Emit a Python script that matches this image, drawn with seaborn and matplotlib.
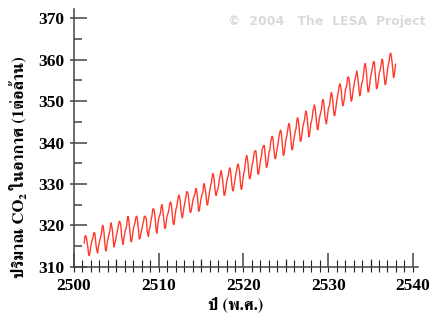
import matplotlib
matplotlib.use("Agg")
import matplotlib.pyplot as plt
from matplotlib.ticker import MultipleLocator, FixedLocator, NullFormatter
import numpy as np
import pandas as pd
import seaborn as sns

# ---- data: monthly CO2 (ppm), Mauna Loa, starting March 2501 B.E. (1958 C.E.)
start_year_be = 2501
start_month = 3
co2_ppm = [
    315.7, 317.4, 317.5, 317.1, 315.9, 314.9, 313.2, 312.7, 313.3, 314.7,               # 2501
    315.6, 316.4, 316.7, 317.7, 318.3, 318.1, 316.5, 314.8, 313.8, 313.3, 314.8, 315.6, # 2502
    316.4, 317.0, 317.6, 319.0, 320.0, 319.6, 318.2, 315.9, 314.2, 313.8, 315.0, 316.2, # 2503
    316.9, 317.7, 318.5, 319.5, 320.6, 319.8, 318.6, 316.8, 314.8, 315.4, 316.1, 317.0, # 2504
    317.9, 318.6, 319.7, 320.6, 321.0, 320.6, 319.6, 317.4, 316.3, 315.4, 316.7, 317.7, # 2505
    318.7, 319.1, 319.9, 321.4, 322.2, 321.5, 319.7, 317.8, 316.2, 316.0, 317.1, 318.3, # 2506
    319.6, 320.1, 320.7, 321.8, 322.2, 321.9, 320.4, 318.7, 316.7, 316.8, 317.8, 318.7, # 2507
    319.4, 320.4, 320.9, 322.1, 322.2, 321.9, 321.4, 318.8, 317.8, 317.3, 318.9, 319.4, # 2508
    320.6, 321.6, 322.4, 323.9, 324.0, 323.7, 322.4, 320.4, 318.6, 318.1, 319.8, 321.1, # 2509
    322.1, 322.5, 323.0, 324.4, 325.0, 324.1, 322.5, 320.9, 319.3, 319.3, 320.7, 322.0, # 2510
    322.6, 323.1, 323.9, 325.0, 325.6, 325.4, 324.1, 322.0, 320.4, 320.2, 321.3, 322.8, # 2511
    324.0, 324.4, 325.6, 326.7, 327.3, 326.8, 325.9, 323.7, 322.4, 321.8, 322.8, 324.1, # 2512
    325.0, 326.0, 326.9, 328.1, 328.1, 327.7, 326.3, 324.7, 323.1, 323.2, 324.0, 325.1, # 2513
    326.2, 326.7, 327.2, 327.8, 328.9, 328.6, 327.3, 325.5, 323.4, 323.6, 324.8, 326.0, # 2514
    326.8, 327.6, 327.8, 329.7, 330.1, 329.1, 328.0, 326.3, 324.9, 325.1, 326.5, 327.5, # 2515
    328.5, 329.6, 330.3, 331.5, 332.5, 332.1, 330.9, 329.3, 327.5, 327.2, 328.2, 328.6, # 2516
    329.3, 330.7, 331.5, 332.6, 333.2, 332.2, 331.1, 329.1, 327.3, 327.3, 328.3, 329.6, # 2517
    330.7, 331.5, 331.9, 333.2, 333.9, 333.4, 332.0, 329.9, 328.5, 328.3, 329.4, 330.6, # 2518
    331.6, 332.7, 333.5, 334.6, 334.8, 334.0, 333.1, 330.7, 328.9, 328.7, 330.1, 331.6, # 2519
    332.7, 333.1, 334.9, 336.1, 336.9, 336.2, 334.9, 332.6, 331.3, 331.3, 332.4, 333.6, # 2520
    334.9, 335.2, 336.7, 337.7, 338.0, 338.0, 336.4, 334.4, 332.4, 332.4, 333.7, 334.9, # 2521
    336.1, 336.7, 338.3, 338.9, 339.2, 339.3, 337.5, 335.7, 334.0, 334.2, 335.3, 336.8, # 2522
    337.9, 338.3, 340.0, 340.9, 341.5, 341.3, 339.4, 337.7, 336.2, 336.1, 337.3, 338.3, # 2523
    339.3, 340.5, 341.6, 342.5, 343.0, 342.5, 340.8, 338.4, 336.9, 337.1, 338.6, 339.9, # 2524
    341.0, 341.7, 342.8, 344.0, 344.6, 343.8, 342.3, 340.1, 338.3, 338.3, 339.6, 340.9, # 2525
    341.7, 342.9, 343.3, 345.2, 346.0, 345.6, 344.2, 342.3, 340.3, 340.4, 341.6, 343.0, # 2526
    344.1, 344.8, 345.5, 346.8, 347.6, 347.0, 345.5, 343.5, 341.4, 341.7, 343.1, 344.7, # 2527
    345.2, 346.2, 347.7, 348.3, 349.1, 348.4, 346.7, 345.0, 343.3, 343.1, 344.5, 345.9, # 2528
    346.6, 347.3, 348.0, 349.8, 350.4, 349.9, 348.2, 346.1, 345.2, 344.5, 345.9, 347.2, # 2529
    348.5, 348.7, 349.7, 351.3, 352.1, 351.5, 350.1, 347.9, 346.5, 346.6, 348.0, 349.2, # 2530
    350.4, 351.6, 352.4, 353.7, 354.2, 353.7, 352.7, 350.4, 348.9, 349.1, 350.2, 351.4, # 2531
    352.9, 353.3, 354.0, 355.6, 355.9, 355.4, 354.0, 351.8, 350.0, 350.2, 351.5, 352.8, # 2532
    353.8, 355.0, 355.7, 356.3, 357.3, 356.3, 354.8, 353.0, 351.3, 351.6, 353.1, 354.3, # 2533
    354.8, 355.7, 357.2, 358.7, 359.1, 358.1, 356.2, 353.8, 352.2, 352.3, 353.8, 355.1, # 2534
    356.2, 357.1, 357.9, 359.1, 359.6, 359.3, 357.0, 354.9, 353.0, 353.3, 354.3, 355.6, # 2535
    357.0, 357.3, 358.5, 359.3, 360.2, 359.5, 357.3, 355.6, 354.0, 354.1, 355.4, 356.9, # 2536
    358.2, 358.9, 360.0, 361.2, 361.6, 360.8, 359.4, 357.5, 355.7, 356.1, 357.5, 359.0, # 2537
]
x_ticks_major = [2500, 2510, 2520, 2530, 2540]
x_ticks_mid = [2505, 2515, 2525, 2535]
y_ticks_major = [310, 320, 330, 340, 350, 360, 370]
x_label = "ปี (พ.ศ.)"
y_label = "ปริมาณ CO₂ ในอากาศ (1ต่อล้าน)"
watermark = "©  2004   The  LESA  Project"

months_index = np.arange(len(co2_ppm)) + (start_month - 1)
df = pd.DataFrame({
    "year": start_year_be + (months_index + 0.5) / 12.0,
    "co2": co2_ppm,
})

sns.set_style("ticks")
W, H = 434, 321
fig = plt.figure(figsize=(W / 100, H / 100), dpi=100)
ax_l, ax_r, ax_b, ax_t = 74, 418, 266.7, 9.3
ax = fig.add_axes([ax_l / W, 1 - ax_b / H, (ax_r - ax_l) / W, (ax_b - ax_t) / H])
ax.set_facecolor("white")

sns.lineplot(data=df, x="year", y="co2", ax=ax, color="#ff3b2b", linewidth=1.0)

ax.set_xlim(2500, 2540.6)
ax.set_ylim(310, 372.2)

axis_col = "#444444"
for s in ["top", "right"]:
    ax.spines[s].set_visible(False)
for s in ["left", "bottom"]:
    ax.spines[s].set_color(axis_col)
    ax.spines[s].set_linewidth(1.1)
    ax.spines[s].set_zorder(5)

ax.xaxis.set_major_locator(FixedLocator(x_ticks_major))
ax.xaxis.set_minor_locator(MultipleLocator(1))
ax.yaxis.set_major_locator(FixedLocator(y_ticks_major))
ax.yaxis.set_minor_locator(MultipleLocator(5))
ax.tick_params(axis="both", which="both", bottom=True, left=True, top=False, right=False)
ax.tick_params(axis="x", which="major", direction="in", length=10.4, width=1.1,
               color=axis_col, pad=8, labelsize=12.5)
ax.tick_params(axis="x", which="minor", direction="in", length=4.8, width=0.8,
               color="#222222")
ax.tick_params(axis="y", which="major", direction="in", length=9.1, width=1.1,
               color=axis_col, pad=7, labelsize=12.5)
ax.tick_params(axis="y", which="minor", direction="in", length=5.8, width=1.1,
               color=axis_col)
for lab in ax.get_xticklabels() + ax.get_yticklabels():
    lab.set_fontfamily(["Liberation Serif"])
    lab.set_fontweight("bold")
    lab.set_color("black")

# secondary axes for additional tick levels
sx5 = ax.secondary_xaxis("bottom")
sx5.xaxis.set_major_locator(FixedLocator(x_ticks_mid))
sx5.xaxis.set_major_formatter(NullFormatter())
sx5.xaxis.set_minor_locator(FixedLocator([]))
sx5.tick_params(axis="x", which="major", bottom=True, direction="in", length=6.0,
                width=0.9, color=axis_col)
sx5.spines["bottom"].set_visible(False)

sxo = ax.secondary_xaxis("bottom")
sxo.xaxis.set_major_locator(MultipleLocator(1))
sxo.xaxis.set_major_formatter(NullFormatter())
sxo.xaxis.set_minor_locator(FixedLocator([]))
sxo.tick_params(axis="x", which="major", bottom=True, direction="out", length=3.6,
                width=0.8, color="#222222")
sxo.spines["bottom"].set_visible(False)

syo = ax.secondary_yaxis("left")
syo.yaxis.set_major_locator(FixedLocator(y_ticks_major))
syo.yaxis.set_major_formatter(NullFormatter())
syo.yaxis.set_minor_locator(FixedLocator([]))
syo.tick_params(axis="y", which="major", left=True, direction="out", length=2.9,
                width=1.1, color=axis_col)
syo.spines["left"].set_visible(False)

thai = ["FreeSerif", "Noto Serif Thai", "DejaVu Sans"]
ax.set_xlabel(x_label, family=thai, weight="bold", size=12, color="black")
ax.xaxis.set_label_coords((236 - ax_l) / (ax_r - ax_l), (ax_b - 304) / (ax_b - ax_t))
ax.xaxis.label.set_va("center")
ax.set_ylabel(y_label, family=thai, weight="bold", size=12, color="black")
ax.yaxis.set_label_coords((18 - ax_l) / (ax_r - ax_l), (ax_b - 167) / (ax_b - ax_t))
ax.yaxis.label.set_va("center")

fig.text(426 / W, 1 - 22 / H, watermark, ha="right", va="center",
         color="#dadada", fontsize=9, fontweight="bold", family=["DejaVu Sans"])

fig.savefig("out.png", dpi=100, facecolor="white")
